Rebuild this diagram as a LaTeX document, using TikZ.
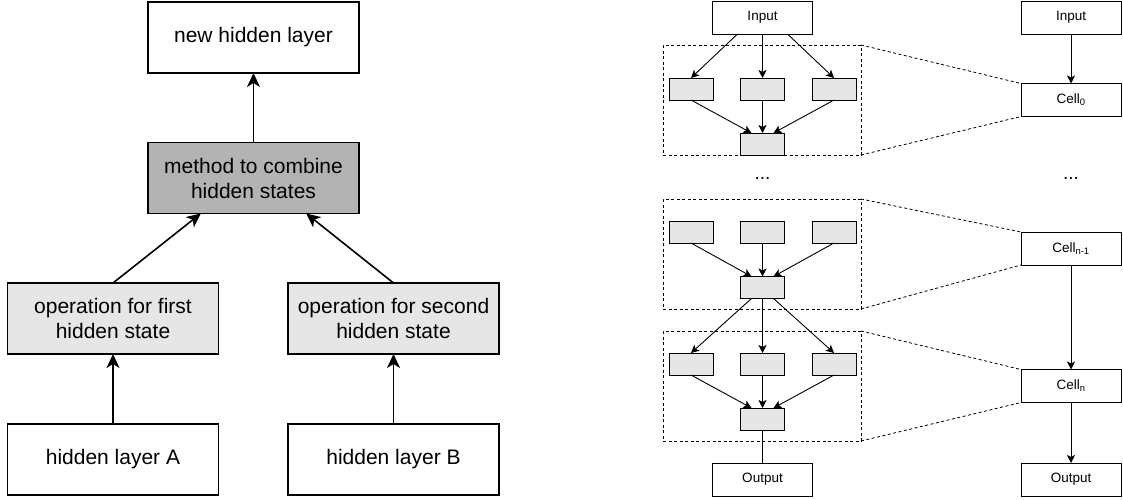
\documentclass[tikz,border=0pt]{standalone}
\usepackage{fontspec}
\setmainfont{Liberation Sans}
\usetikzlibrary{arrows.meta,calc}

\definecolor{lightbox}{HTML}{E6E6E6}
\definecolor{darkbox}{HTML}{B3B3B3}

\begin{document}
\begin{tikzpicture}[x=1pt,y=-1pt]

\tikzstyle{bigbox} = [draw,line width=1.5pt,inner sep=0,outer sep=0,minimum width=211,minimum height=71,align=center,font=\fontsize{21}{25}\selectfont]
\tikzstyle{cellbox} = [draw,line width=0.9pt,inner sep=0,outer sep=0,minimum width=100,minimum height=33,font=\fontsize{13.5}{15}\selectfont]
\tikzstyle{opbox} = [draw,fill=lightbox,line width=0.9pt,inner sep=0,outer sep=0,minimum width=44,minimum height=22]
\tikzstyle{groupbox} = [draw,dashed,dash pattern=on 3pt off 2.5pt,line width=0.8pt,inner sep=0,outer sep=0,minimum width=198,minimum height=110]
\tikzstyle{dotslabel} = [inner sep=0,font=\fontsize{19}{20}\selectfont]
\tikzstyle{bigarrow} = [line width=1.6pt,-{Stealth[length=14pt,width=13pt,inset=4pt]}]
\tikzstyle{smallarrow} = [line width=0.9pt,-{Stealth[length=8pt,width=8pt,inset=2pt]}]

\useasboundingbox (0,0) rectangle (1123,499);

% left: combining two hidden states
\node [bigbox] (newhid) at (253.5,37.5) {new hidden layer};
\node [bigbox,fill=darkbox] (combine) at (253.5,178) {method to combine\\hidden states};
\node [bigbox,fill=lightbox] (opA) at (113,318.5) {operation for first\\hidden state};
\node [bigbox,fill=lightbox] (opB) at (393.5,318.5) {operation for second\\hidden state};
\node [bigbox] (hidA) at (113,459.5) {hidden layer A};
\node [bigbox] (hidB) at (393.5,459.5) {hidden layer B};

\draw [bigarrow] (hidA.north) -- (opA.south);
\draw [bigarrow] (hidB.north) -- (opB.south);
\draw [bigarrow] (opA.north) -- ($(combine.south west)!0.25!(combine.south east)$);
\draw [bigarrow] (opB.north) -- ($(combine.south west)!0.75!(combine.south east)$);
\draw [bigarrow] (combine.north) -- (newhid.south);

% middle: cells unfolded
\node [cellbox] (inL) at (762.5,17.5) {Input};
\node [groupbox] (grp1) at (762,100) {};
\node [opbox] (a1) at (691,89) {};
\node [opbox] (a2) at (762.5,89) {};
\node [opbox] (a3) at (834,89) {};
\node [opbox] (am) at (762.5,144) {};

\node [dotslabel] (dotsL) at (762.5,178) {...};

\node [groupbox] (grp2) at (762,254) {};
\node [opbox] (b1) at (691,232) {};
\node [opbox] (b2) at (762.5,232) {};
\node [opbox] (b3) at (834,232) {};
\node [opbox] (bm) at (762.5,287.5) {};

\node [groupbox] (grp3) at (762,386) {};
\node [opbox] (c1) at (691,364) {};
\node [opbox] (c2) at (762.5,364) {};
\node [opbox] (c3) at (834,364) {};
\node [opbox] (cm) at (762.5,419) {};
\node [cellbox] (outL) at (762.5,479.5) {Output};

\draw [smallarrow] ($(inL.south west)!0.25!(inL.south east)$) -- (a1.north);
\draw [smallarrow] (inL.south) -- (a2.north);
\draw [smallarrow] ($(inL.south west)!0.75!(inL.south east)$) -- (a3.north);
\draw [smallarrow] (a1.south) -- ($(am.north west)!0.25!(am.north east)$);
\draw [smallarrow] (a2.south) -- (am.north);
\draw [smallarrow] (a3.south) -- ($(am.north west)!0.75!(am.north east)$);

\draw [smallarrow] (b1.south) -- ($(bm.north west)!0.25!(bm.north east)$);
\draw [smallarrow] (b2.south) -- (bm.north);
\draw [smallarrow] (b3.south) -- ($(bm.north west)!0.75!(bm.north east)$);
\draw [smallarrow] ($(bm.south west)!0.25!(bm.south east)$) -- (c1.north);
\draw [smallarrow] (bm.south) -- (c2.north);
\draw [smallarrow] ($(bm.south west)!0.75!(bm.south east)$) -- (c3.north);

\draw [smallarrow] (c1.south) -- ($(cm.north west)!0.25!(cm.north east)$);
\draw [smallarrow] (c2.south) -- (cm.north);
\draw [smallarrow] (c3.south) -- ($(cm.north west)!0.75!(cm.north east)$);
\draw [line width=0.9pt] (cm.south) -- (outL.north);

% right: stacked cells
\node [cellbox] (inR) at (1071,17.5) {Input};
\node [cellbox] (cell0) at (1071,100) {Cell\textsubscript{0}};
\node [dotslabel] (dotsR) at (1071,178) {...};
\node [cellbox] (cellm) at (1071,248.5) {Cell\textsubscript{n-1}};
\node [cellbox] (celln) at (1071,386) {Cell\textsubscript{n}};
\node [cellbox] (outR) at (1071,479.5) {Output};

\draw [smallarrow] (inR.south) -- (cell0.north);
\draw [smallarrow] (cellm.south) -- (celln.north);
\draw [smallarrow] (celln.south) -- (outR.north);

% zoom lines from groups to cells
\draw [dashed,dash pattern=on 3pt off 2.5pt,line width=0.8pt] (grp1.north east) -- (cell0.north west);
\draw [dashed,dash pattern=on 3pt off 2.5pt,line width=0.8pt] (grp1.south east) -- (cell0.south west);
\draw [dashed,dash pattern=on 3pt off 2.5pt,line width=0.8pt] (grp2.north east) -- (cellm.north west);
\draw [dashed,dash pattern=on 3pt off 2.5pt,line width=0.8pt] (grp2.south east) -- (cellm.south west);
\draw [dashed,dash pattern=on 3pt off 2.5pt,line width=0.8pt] (grp3.north east) -- (celln.north west);
\draw [dashed,dash pattern=on 3pt off 2.5pt,line width=0.8pt] (grp3.south east) -- (celln.south west);

\end{tikzpicture}
\end{document}
